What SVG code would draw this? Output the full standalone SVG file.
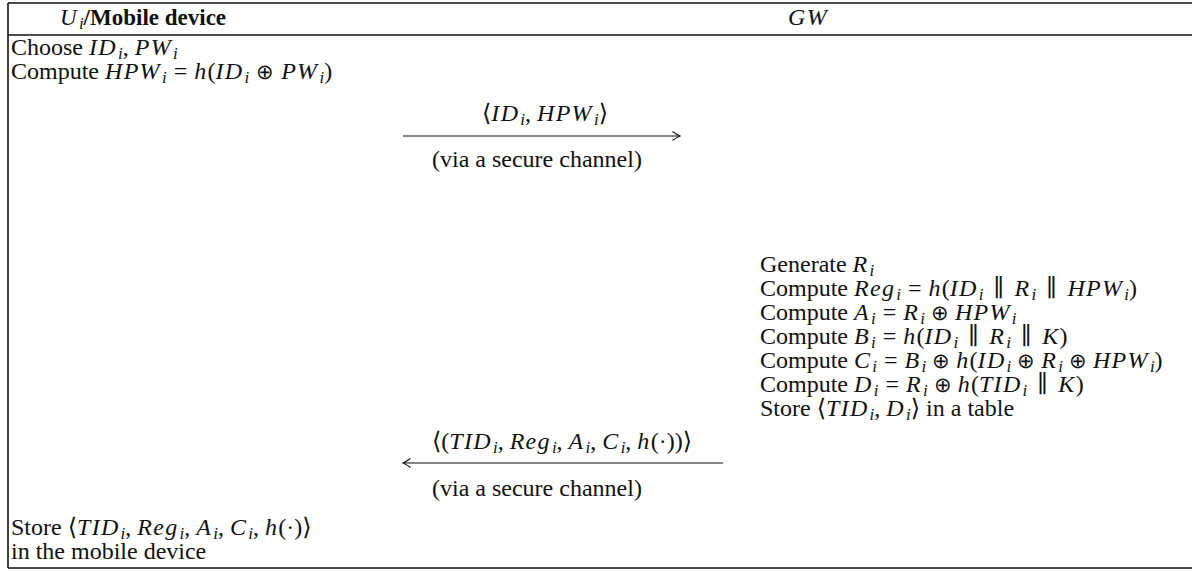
<svg xmlns="http://www.w3.org/2000/svg" width="1192" height="572" viewBox="0 0 1192 572">
  <style>
    text { font-family: "Liberation Serif", "DejaVu Serif", serif; font-size: 24px; fill: #111; }
    .v { font-style: italic; letter-spacing: 1.3px; }
    .b { font-weight: bold; }
    .s { font-style: italic; font-size: 17px; }
    .op { font-family: "DejaVu Sans", sans-serif; font-weight: 200; font-size: 21px; }
    .rule { stroke: #111; stroke-width: 1.6; fill: none; }
    .msg { stroke: #111; stroke-width: 1.1; fill: none; }
  </style>
  <defs>
    <marker id="head" viewBox="-10 -6 12 12" refX="0" refY="0" markerWidth="12" markerHeight="12" markerUnits="userSpaceOnUse" orient="auto">
      <path d="M -7.5,-4.5 Q -2.5,-1 0,0 Q -2.5,1 -7.5,4.5" stroke="#111" stroke-width="1.1" fill="none"/>
    </marker>
  </defs>
  <rect width="1192" height="572" fill="#fff"/>

  <!-- table frame -->
  <g id="frame">
    <line class="rule" x1="8" y1="3" x2="1192" y2="3"/>
    <line class="rule" x1="8" y1="35" x2="1192" y2="35"/>
    <line class="rule" x1="8" y1="568" x2="1192" y2="568"/>
    <line class="rule" x1="8" y1="3" x2="8" y2="568"/>
  </g>

  <!-- column headings -->
  <g id="user-head">
    <text x="143" y="25" text-anchor="middle" style="font-size:23px"><tspan class="v">U</tspan><tspan class="s" dx="1" dy="4">i</tspan><tspan class="b" dy="-4">/Mobile device</tspan></text>
  </g>
  <g id="gw-head">
    <text x="808" y="25" text-anchor="middle" class="v">GW</text>
  </g>

  <!-- user side, step 1 -->
  <g id="user-input">
    <text x="11" y="55">Choose <tspan class="v">ID</tspan><tspan class="s" dx="1" dy="4">i</tspan><tspan dy="-4">, </tspan><tspan class="v">PW</tspan><tspan class="s" dx="1" dy="4">i</tspan></text>
    <text x="11" y="79">Compute <tspan class="v">HPW</tspan><tspan class="s" dx="1" dy="4">i</tspan><tspan dy="-4" dx="7">=</tspan><tspan class="v" dx="7">h</tspan>(<tspan class="v">ID</tspan><tspan class="s" dx="1" dy="4">i</tspan><tspan class="op" dy="-4" dx="7">⊕</tspan><tspan class="v" dx="7">PW</tspan><tspan class="s" dx="1" dy="4">i</tspan><tspan dy="-4">)</tspan></text>
  </g>

  <!-- gateway side -->
  <g id="gw-compute">
    <text x="760" y="272">Generate <tspan class="v">R</tspan><tspan class="s" dx="1" dy="4">i</tspan></text>
    <text x="760" y="296">Compute <tspan class="v">Reg</tspan><tspan class="s" dx="1" dy="4">i</tspan><tspan dy="-4" dx="7">=</tspan><tspan class="v" dx="7">h</tspan>(<tspan class="v">ID</tspan><tspan class="s" dx="1" dy="4">i</tspan><tspan dy="-4" dx="10">∥</tspan><tspan class="v" dx="10">R</tspan><tspan class="s" dx="1" dy="4">i</tspan><tspan dy="-4" dx="10">∥</tspan><tspan class="v" dx="10">HPW</tspan><tspan class="s" dx="1" dy="4">i</tspan><tspan dy="-4">)</tspan></text>
    <text x="760" y="320">Compute <tspan class="v">A</tspan><tspan class="s" dx="1" dy="4">i</tspan><tspan dy="-4" dx="7">=</tspan><tspan class="v" dx="7">R</tspan><tspan class="s" dx="1" dy="4">i</tspan><tspan class="op" dy="-4" dx="6">⊕</tspan><tspan class="v" dx="6">HPW</tspan><tspan class="s" dx="1" dy="4">i</tspan></text>
    <text x="760" y="344">Compute <tspan class="v">B</tspan><tspan class="s" dx="1" dy="4">i</tspan><tspan dy="-4" dx="7">=</tspan><tspan class="v" dx="7">h</tspan>(<tspan class="v">ID</tspan><tspan class="s" dx="1" dy="4">i</tspan><tspan dy="-4" dx="10">∥</tspan><tspan class="v" dx="10">R</tspan><tspan class="s" dx="1" dy="4">i</tspan><tspan dy="-4" dx="10">∥</tspan><tspan class="v" dx="10">K</tspan>)</text>
    <text x="760" y="368">Compute <tspan class="v">C</tspan><tspan class="s" dx="1" dy="4">i</tspan><tspan dy="-4" dx="7">=</tspan><tspan class="v" dx="7">B</tspan><tspan class="s" dx="1" dy="4">i</tspan><tspan class="op" dy="-4" dx="6">⊕</tspan><tspan class="v" dx="6">h</tspan>(<tspan class="v">ID</tspan><tspan class="s" dx="1" dy="4">i</tspan><tspan class="op" dy="-4" dx="6">⊕</tspan><tspan class="v" dx="6">R</tspan><tspan class="s" dx="1" dy="4">i</tspan><tspan class="op" dy="-4" dx="6">⊕</tspan><tspan class="v" dx="6">HPW</tspan><tspan class="s" dx="1" dy="4">i</tspan><tspan dy="-4">)</tspan></text>
    <text x="760" y="392">Compute <tspan class="v">D</tspan><tspan class="s" dx="1" dy="4">i</tspan><tspan dy="-4" dx="7">=</tspan><tspan class="v" dx="7">R</tspan><tspan class="s" dx="1" dy="4">i</tspan><tspan class="op" dy="-4" dx="6">⊕</tspan><tspan class="v" dx="6">h</tspan>(<tspan class="v">TID</tspan><tspan class="s" dx="1" dy="4">i</tspan><tspan dy="-4" dx="10">∥</tspan><tspan class="v" dx="10">K</tspan>)</text>
    <text x="760" y="416">Store ⟨<tspan class="v">TID</tspan><tspan class="s" dx="1" dy="4">i</tspan><tspan dy="-4">, </tspan><tspan class="v">D</tspan><tspan class="s" dx="1" dy="4">i</tspan><tspan dy="-4">⟩ in a table</tspan></text>
  </g>

  <!-- user side, final step -->
  <g id="user-store">
    <text x="11" y="535">Store ⟨<tspan class="v">TID</tspan><tspan class="s" dx="1" dy="4">i</tspan><tspan dy="-4">, </tspan><tspan class="v">Reg</tspan><tspan class="s" dx="1" dy="4">i</tspan><tspan dy="-4">, </tspan><tspan class="v">A</tspan><tspan class="s" dx="1" dy="4">i</tspan><tspan dy="-4">, </tspan><tspan class="v">C</tspan><tspan class="s" dx="1" dy="4">i</tspan><tspan dy="-4">, </tspan><tspan class="v">h</tspan>(·)⟩</text>
    <text x="11" y="559">in the mobile device</text>
  </g>

  <!-- messages -->
  <g id="connectors">
    <line class="msg" x1="403" y1="136" x2="680" y2="136" marker-end="url(#head)"/>
    <line class="msg" x1="723" y1="463" x2="403" y2="463" marker-end="url(#head)"/>
  </g>
  <g id="msg-labels">
    <text x="545" y="121" text-anchor="middle">⟨<tspan class="v">ID</tspan><tspan class="s" dx="1" dy="4">i</tspan><tspan dy="-4">, </tspan><tspan class="v">HPW</tspan><tspan class="s" dx="1" dy="4">i</tspan><tspan dy="-4">⟩</tspan></text>
    <text x="432" y="167">(via a secure channel)</text>
    <text x="562" y="449" text-anchor="middle">⟨(<tspan class="v">TID</tspan><tspan class="s" dx="1" dy="4">i</tspan><tspan dy="-4">, </tspan><tspan class="v">Reg</tspan><tspan class="s" dx="1" dy="4">i</tspan><tspan dy="-4">, </tspan><tspan class="v">A</tspan><tspan class="s" dx="1" dy="4">i</tspan><tspan dy="-4">, </tspan><tspan class="v">C</tspan><tspan class="s" dx="1" dy="4">i</tspan><tspan dy="-4">, </tspan><tspan class="v">h</tspan>(·))⟩</text>
    <text x="432" y="496">(via a secure channel)</text>
  </g>
</svg>
